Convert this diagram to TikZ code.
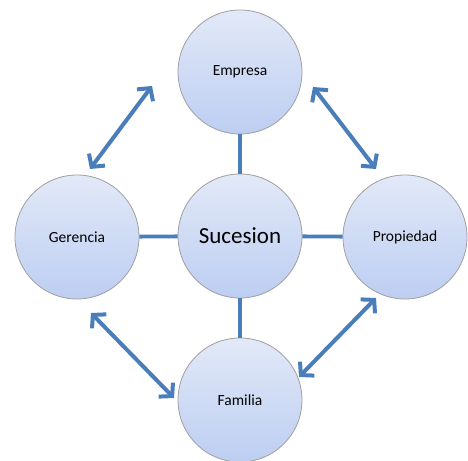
\documentclass[tikz,border=0pt]{standalone}
\usepackage{fontspec}
\setmainfont{Carlito}
\usetikzlibrary{arrows.meta}

\definecolor{linkblue}{HTML}{4A7EBB}
\definecolor{balltop}{HTML}{E2E9F8}
\definecolor{ballbottom}{HTML}{BDCEF2}

\tikzset{
    ball/.style={circle, draw=gray!75, line width=0.8pt, top color=balltop,
        bottom color=ballbottom, minimum size=124pt, inner sep=0pt,
        font=\fontsize{15.5}{18}\selectfont},
    spoke/.style={linkblue, line width=3.8pt},
    twoway/.style={linkblue, line width=4pt,
        {Straight Barb[length=9pt,width=20pt]}-{Straight Barb[length=9pt,width=20pt]}}
}

\begin{document}
\begin{tikzpicture}[x=1pt,y=1pt]
    \useasboundingbox (0,0) rectangle (468,460);

    % Circles
    \node[ball, font=\fontsize{23}{27}\selectfont] (sucesion) at (240,224) {Sucesion};
    \node[ball] (empresa) at (240,388) {Empresa};
    \node[ball] (gerencia) at (77,223) {Gerencia};
    \node[ball] (propiedad) at (405,223) {Propiedad};
    \node[ball] (familia) at (240,60) {Familia};

    % Spokes from the centre
    \draw[spoke] (sucesion) -- (empresa);
    \draw[spoke] (sucesion) -- (gerencia);
    \draw[spoke] (sucesion) -- (propiedad);
    \draw[spoke] (sucesion) -- (familia);

    % Arrow ends
    \coordinate (ge) at (90,291);
    \coordinate (eg) at (152,374);
    \coordinate (ep) at (313,373);
    \coordinate (pe) at (376,291);
    \coordinate (gf) at (91,147);
    \coordinate (fg) at (174,62);
    \coordinate (pf) at (376,162);
    \coordinate (fp) at (299,83);

    % Double arrows
    \draw[twoway] (ge) -- (eg);
    \draw[twoway] (ep) -- (pe);
    \draw[twoway] (gf) -- (fg);
    \draw[twoway] (pf) -- (fp);
\end{tikzpicture}
\end{document}
